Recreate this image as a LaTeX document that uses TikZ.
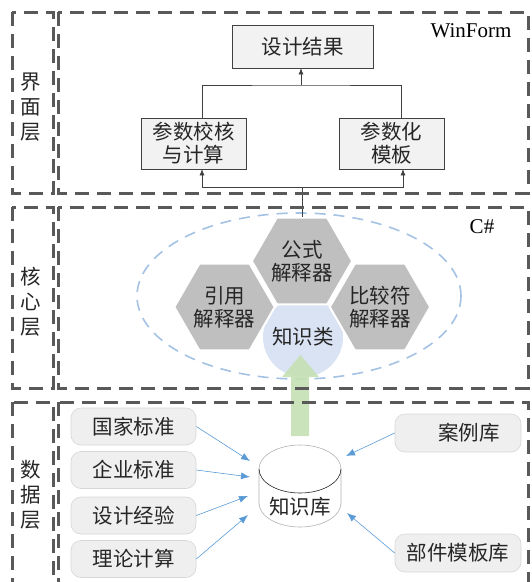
\documentclass[tikz,border=0pt]{standalone}
\usepackage{fontspec}
\setmainfont{Liberation Serif}
\newfontfamily\cjk{Noto Sans CJK SC}
\usetikzlibrary{arrows.meta,shapes.geometric,calc}
\definecolor{dgray}{RGB}{89,89,89}
\definecolor{boxfill}{RGB}{242,242,242}
\definecolor{hexgray}{RGB}{191,191,191}
\definecolor{circfill}{RGB}{218,227,243}
\definecolor{elldash}{RGB}{164,194,228}
\definecolor{greenc}{RGB}{197,224,180}
\definecolor{bluec}{RGB}{91,155,213}
\definecolor{rfill}{RGB}{239,239,239}
\definecolor{rborder}{RGB}{214,214,214}
\begin{document}
\begin{tikzpicture}[x=1pt,y=-1pt,
  cjkfont/.style={font=\cjk\fontsize{20.5}{23}\selectfont, text=black!85},
  layerbox/.style={draw=dgray, line width=3pt, dash pattern=on 14pt off 8pt},
  sidelabel/.style={font=\cjk\fontsize{20.5}{25}\selectfont, text=black!85, align=center, inner sep=0pt},
  topbox/.style={cjkfont, draw=black!75, fill=boxfill, line width=0.6pt, inner sep=0pt, align=center},
  rbox/.style={cjkfont, draw=rborder, fill=rfill, rounded corners=10pt, minimum width=125pt, minimum height=37pt, inner sep=0pt, line width=0.6pt},
  hexa/.style={cjkfont, regular polygon, regular polygon sides=6, minimum size=94pt, fill=hexgray, draw=white, line width=2pt, inner sep=0pt, align=center},
  conn/.style={draw=black!75, line width=0.6pt},
  blk/.style={conn, -{Latex[length=6pt,width=5pt]}},
  blu/.style={draw=bluec, line width=0.6pt, -{Latex[length=9pt,width=7pt]}},
  latin/.style={font=\fontsize{21}{21}\selectfont, inner sep=0pt}
]
\useasboundingbox (0,0) rectangle (532,582);
\clip (0,0) rectangle (532,582);

% ---------- Layer 1 : UI ----------
\node[sidelabel] (l1) at (31,107) {界\\面\\层};
\node[latin] (winform) at (471,31) {WinForm};
\node[topbox, minimum width=141pt, minimum height=43pt] (res) at (302.5,46.5) {设计结果};
\node[topbox, minimum width=105pt, minimum height=51pt] (jh) at (193.5,143.5) {参数校核\\与计算};
\node[topbox, minimum width=105pt, minimum height=51pt] (mb) at (391.5,143.5) {参数化\\模板};
\coordinate (j1) at (301,85);
\draw[conn] ([xshift=8.5pt]jh.north) |- (j1) -| ([xshift=9.5pt]mb.north);
\draw[blk] (j1) -- (res.south -| j1);

% ---------- Layer 2 : core ----------
\node[sidelabel] (l2) at (31,302) {核\\心\\层};
\node[latin] (cs) at (482,227) {C\#};
\draw[elldash, line width=1.6pt, dash pattern=on 11pt off 8pt] (299,296) ellipse (162 and 83);
\node[cjkfont, circle, fill=circfill, minimum size=80pt, inner sep=0pt] (zsl) at (303,337) {知识类};
\node[hexa] (yy) at (224.5,307) {引用\\解释器};
\node[hexa] (gs) at (302,261) {公式\\解释器};
\node[hexa] (bj) at (380,307) {比较符\\解释器};
\coordinate (j2) at (gs.north |- 0,187);
\draw[conn] (gs.north) -- (j2);
\draw[blk] (j2) -| ([xshift=8.5pt]jh.south);
\draw[blk] (j2) -| ([xshift=11.5pt]mb.south);

% ---------- Layer 3 : data ----------
\node[sidelabel] (l3) at (31,495) {数\\据\\层};
\node[rbox] (gj) at (133.5,426.5) {国家标准};
\node[rbox] (qy) at (133.5,470) {企业标准};
\node[rbox] (sj) at (133.5,515.5) {设计经验};
\node[rbox] (ll) at (133.5,559) {理论计算};
\node[rbox, minimum width=126pt, minimum height=38pt] (al) at (458,433) {\hspace{22pt}案例库};
\node[rbox, minimum width=126pt, minimum height=38pt] (bm) at (458,553) {部件模板库};

% cylinder
\fill[white] (259,469) -- (259,503) arc (180:0:41 and 24) -- (341,469) arc (0:-180:41 and 24) -- cycle;
\draw[black!30, line width=0.6pt] (259,469) -- (259,503) arc (180:0:41 and 24) -- (341,469) arc (0:-180:41 and 24);
\draw[black!85, line width=0.6pt] (259,469) arc (180:0:41 and 24);
\node[cjkfont] (zsk) at (300,507) {知识库};

\coordinate (t1) at (250,461);
\coordinate (t2) at (250,477);
\coordinate (t3) at (248,496);
\coordinate (t4) at (248,515);
\coordinate (t5) at (346,456);
\coordinate (t6) at (347,513);
\draw[blu] (gj.east) -- (t1);
\draw[blu] (qy.east) -- (t2);
\draw[blu] (sj.east) -- (t3);
\draw[blu] (ll.east) -- (t4);
\draw[blu] (al.west) -- (t5);
\draw[blu] (bm.west) -- (t6);

% green arrow from knowledge base to knowledge class
\fill[greenc, fill opacity=0.9] (291,436) -- (291,377) -- (282,377) -- (300.5,355) -- (319,377) -- (309,377) -- (309,436) -- cycle;

% ---------- layer frames ----------
\draw[layerbox] (12,12) rectangle (53,193);
\draw[layerbox] (58,12) rectangle (528,193);
\draw[layerbox] (12,207) rectangle (53,388);
\draw[layerbox] (58,207) rectangle (528,388);
\draw[layerbox] (12,402) rectangle (53,600);
\draw[layerbox] (58,402) rectangle (528,600);
\end{tikzpicture}
\end{document}
